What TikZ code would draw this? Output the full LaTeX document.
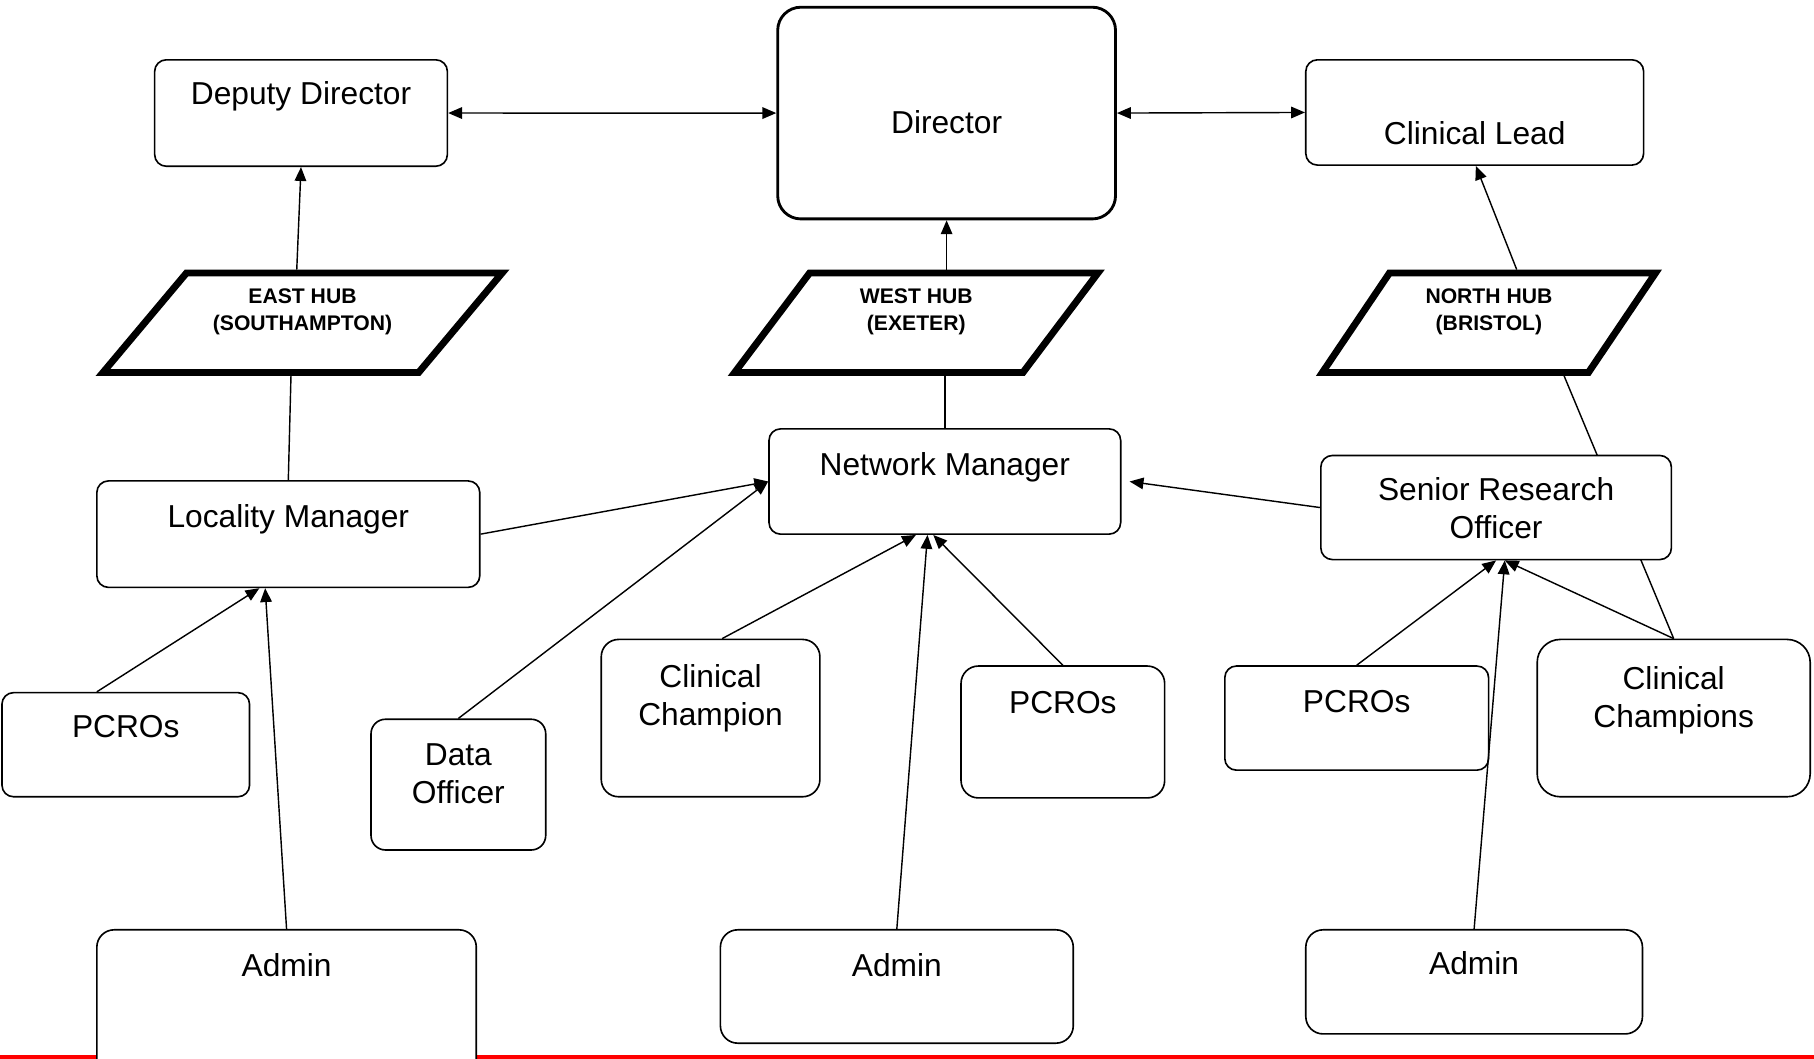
\documentclass[tikz,border=0pt]{standalone}
\usepackage{fontspec}
\setmainfont{Liberation Sans}
\usetikzlibrary{arrows.meta,positioning,shapes.geometric,backgrounds}

\begin{document}
\begin{tikzpicture}[>={Triangle[length=0.24cm,width=0.2cm]},
    role/.style={draw, line width=0.8pt, rounded corners=0.2cm, fill=white, align=center, anchor=north west,
        inner ysep=0pt, text height=0.8cm, text depth=1.02cm, font=\fontsize{15.6pt}{18.7pt}\selectfont},
    hub/.style={draw, trapezium, trapezium stretches body=true, line width=3.4pt, fill=white, align=center,
        inner sep=0pt, minimum height=1.72cm, text height=0.99cm, text depth=0.73cm,
        font=\bfseries\fontsize{10.4pt}{13pt}\selectfont},
    link/.style={line width=0.7pt}]
    \useasboundingbox (0,0) rectangle (31.36,-18.3);
    \clip (0,0) rectangle (31.36,-18.3);
    % Nodes (top row)
    \node[role, minimum width=5.06cm, text height=0.78cm, text depth=1.06cm] (deputy) at (2.66,-1.02) {Deputy Director};
    \node[role, minimum width=5.84cm, line width=1.4pt, rounded corners=0.4cm, text height=2.18cm, text depth=1.48cm] (director) at (13.42,-0.10) {Director};
    \node[role, minimum width=5.84cm, text height=1.46cm, text depth=0.36cm] (lead) at (22.56,-1.02) {Clinical Lead};
    % Nodes (hubs)
    \node[hub, minimum width=6.9cm, trapezium left angle=50, trapezium right angle=130] (east) at (5.23,-5.58) {EAST HUB\\(SOUTHAMPTON)};
    \node[hub, minimum width=6.28cm, trapezium left angle=53, trapezium right angle=127] (west) at (15.84,-5.58) {WEST HUB\\(EXETER)};
    \node[hub, minimum width=5.76cm, trapezium left angle=56, trapezium right angle=124] (north) at (25.74,-5.58) {NORTH HUB\\(BRISTOL)};
    % Nodes (managers)
    \node[role, minimum width=6.08cm] (network) at (13.28,-7.40) {Network Manager};
    \node[role, minimum width=6.62cm, text depth=1.04cm] (locality) at (1.66,-8.30) {Locality Manager};
    \node[role, minimum width=6.06cm, text height=1.44cm, text depth=0.36cm] (senior) at (22.82,-7.86) {Senior Research\\Officer};
    % Nodes (staff)
    \node[role, minimum width=4.28cm, text height=0.78cm] (pcros_e) at (0.02,-11.96) {PCROs};
    \node[role, minimum width=3.02cm, text height=1.46cm, text depth=0.80cm, rounded corners=0.25cm] (data) at (6.40,-12.42) {Data\\Officer};
    \node[role, minimum width=3.78cm, text height=1.48cm, text depth=1.24cm, rounded corners=0.3cm] (champion) at (10.38,-11.04) {Clinical\\Champion};
    \node[role, minimum width=3.52cm, text height=0.82cm, text depth=1.46cm, rounded corners=0.3cm] (pcros_w) at (16.60,-11.50) {PCROs};
    \node[role, minimum width=4.56cm, text depth=1.00cm] (pcros_n) at (21.16,-11.50) {PCROs};
    \node[role, minimum width=4.72cm, text height=1.52cm, text depth=1.20cm, rounded corners=0.4cm] (champions) at (26.56,-11.04) {Clinical\\Champions};
    \node[role, minimum width=6.56cm, text depth=1.80cm, rounded corners=0.3cm] (admin_e) at (1.66,-16.06) {Admin};
    \node[role, minimum width=6.10cm, text depth=1.16cm, rounded corners=0.3cm] (admin_w) at (12.44,-16.06) {Admin};
    \node[role, minimum width=5.82cm, text height=0.78cm, rounded corners=0.3cm] (admin_n) at (22.56,-16.06) {Admin};
    % Arrows (top row and hubs)
    \draw[link, <->] (deputy.east) -- (director.west);
    \draw[link, <->] (director.east) -- (lead.west);
    \draw[link, ->] ([xshift=-1mm]east.north) -- (deputy.south);
    \draw[link, ->] (west.north -| director.south) -- (director.south);
    \draw[link, ->] ([xshift=4.8mm]north.north) -- ([xshift=0.2mm]lead.south);
    \draw[link] (locality.north) -- ([xshift=-2mm]east.south);
    \draw[link] (network.north) -- (network.north |- west.south);
    \begin{pgfonlayer}{background}
        \draw[link] (champions.north) -- ([xshift=1.3cm]north.south);
        \draw[red, line width=0.07cm] (0,-18.27) -- (31.36,-18.27);
    \end{pgfonlayer}
    % Arrows into the managers
    \draw[link, ->] (locality.east) -- (network.west);
    \draw[link, ->] (senior.west) -- ([xshift=1.4mm]network.east);
    \draw[link, ->] (data.north) -- (network.west);
    \draw[link, ->] ([xshift=2mm]champion.north) -- ([xshift=-5mm]network.south);
    \draw[link, ->] (admin_w.north) -- ([xshift=-3mm]network.south);
    \draw[link, ->] (pcros_w.north) -- ([xshift=-2mm]network.south);
    \draw[link, ->] ([xshift=-5mm]pcros_e.north) -- ([xshift=-5mm]locality.south);
    \draw[link, ->] (admin_e.north) -- ([xshift=-4mm]locality.south);
    \draw[link, ->] (pcros_n.north) -- (senior.south);
    \draw[link, ->] (admin_n.north) -- ([xshift=1.5mm]senior.south);
    \draw[link, ->] (champions.north) -- ([xshift=1.5mm]senior.south);
\end{tikzpicture}
\end{document}
